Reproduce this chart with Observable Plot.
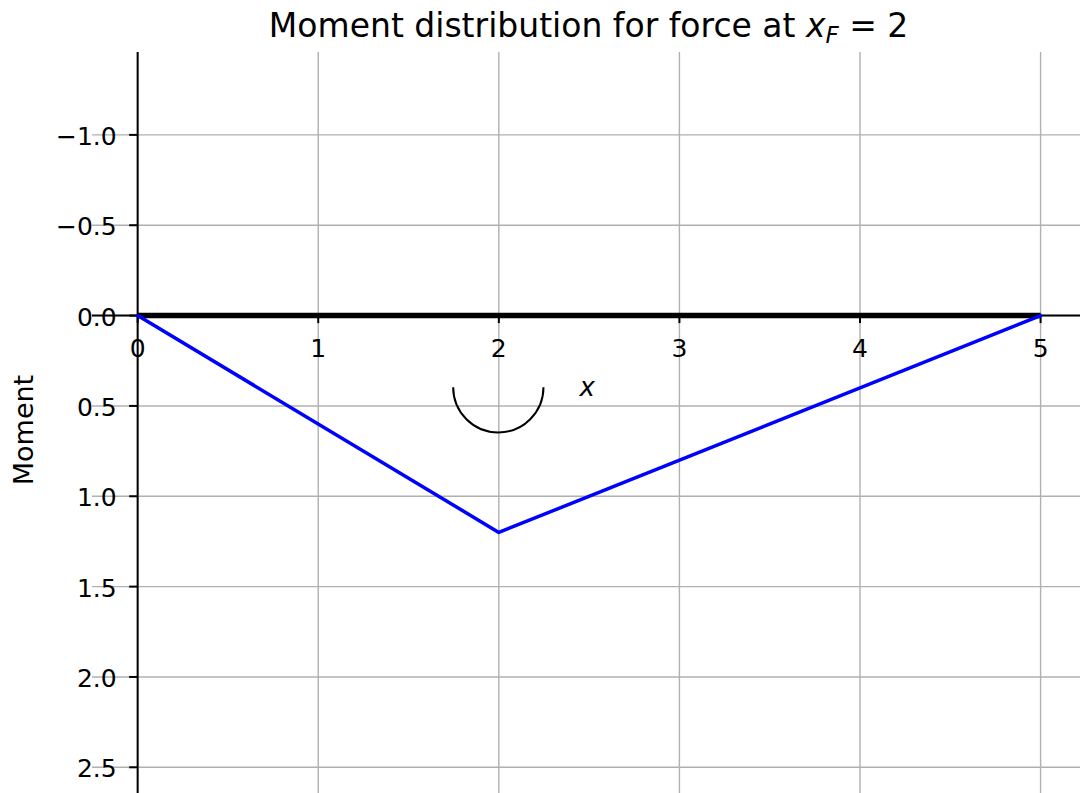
<!DOCTYPE html>
<html>
<head>
<meta charset="utf-8">
<script src="https://cdn.jsdelivr.net/npm/d3@7"></script>
<script src="https://cdn.jsdelivr.net/npm/@observablehq/plot@0.6"></script>
<style>
  html, body { margin: 0; padding: 0; background: #ffffff; }
  #chart svg { display: block; }
</style>
</head>
<body>
<div id="chart"></div>
<script>
// Simply supported beam of length 5 with a point force at x_F = 2
const beamLength = 5;
const forcePosition = 2;

// Bending moment: zero at both supports, peak under the force
const momentX = [0, 2, 5];
const momentY = [0, 1.2, 0];

// Beam drawn along the x axis
const beamX = [0, 5];
const beamY = [0, 0];

// Moment symbol (half circle) and its "x" label
const arcCenter = [2, 0.4];
const arcRadius = 0.25;
const symbolLabel = { x: 2.5, y: 0.4, text: "x" };

// Tick values
const xTicks = [0, 1, 2, 3, 4, 5];
const yTicks = [-1.0, -0.5, 0.0, 0.5, 1.0, 1.5, 2.0, 2.5];

const moment = momentX.map((x, i) => ({ x, y: momentY[i] }));
const beam = beamX.map((x, i) => ({ x, y: beamY[i] }));

const font = "DejaVu Sans";
const fmtY = d3.format(".1f");
const gridColor = "#b0b0b0";

// Half-circle moment symbol, drawn in pixel space from the scales
function momentSymbol(index, scales) {
  const cx = scales.x(arcCenter[0]);
  const cy = scales.y(arcCenter[1]);
  const r = Math.abs(scales.x(arcCenter[0] + arcRadius) - cx);
  const path = d3.create("svg:path")
    .attr("d", `M${cx - r},${cy} A${r},${r} 0 0 0 ${cx + r},${cy}`)
    .attr("fill", "none")
    .attr("stroke", "#000000")
    .attr("stroke-width", 2);
  return path.node();
}

const chart = Plot.plot({
  width: 1080,
  height: 793,
  marginTop: 52,
  marginLeft: 92,
  marginRight: 0,
  marginBottom: 0,
  style: { fontFamily: font, background: "#ffffff", overflow: "visible" },
  x: { domain: [-0.25, 5.221], axis: null },
  y: { domain: [-1.456, 2.645], reverse: true, axis: null },
  marks: [
    // grid
    Plot.gridX(xTicks, { stroke: gridColor, strokeOpacity: 1, strokeWidth: 1.4 }),
    Plot.gridY(yTicks, { stroke: gridColor, strokeOpacity: 1, strokeWidth: 1.4 }),
    // spines through the origin
    Plot.ruleX([0], { stroke: "#000000", strokeWidth: 2 }),
    Plot.ruleY([0], { stroke: "#000000", strokeWidth: 2 }),
    // tick marks
    Plot.ruleX(xTicks, { x: d => d, y1: 0, y2: 0, insetTop: 0, insetBottom: -8, stroke: "#000000", strokeWidth: 2 }),
    Plot.ruleY(yTicks, { y: d => d, x1: 0, x2: 0, insetLeft: -8, insetRight: 0, stroke: "#000000", strokeWidth: 2 }),
    // tick labels
    Plot.text(xTicks, { x: d => d, y: 0, text: d => String(d), lineAnchor: "top", dy: 24, fontSize: 25, fill: "#000000" }),
    Plot.text(yTicks, { x: 0, y: d => d, text: d => fmtY(d), textAnchor: "end", dx: -21, dy: 2, fontSize: 25, fill: "#000000" }),
    // axis label
    Plot.text(["Moment"], { frameAnchor: "left", textAnchor: "middle", rotate: -90, dx: -68, dy: 7, fontSize: 27, fill: "#000000" }),
    // beam
    Plot.line(beam, { x: "x", y: "y", stroke: "#000000", strokeWidth: 5.5, strokeLinecap: "butt" }),
    // moment distribution
    Plot.line(moment, { x: "x", y: "y", stroke: "#0000ff", strokeWidth: 3.5 }),
    // moment symbol
    momentSymbol,
    Plot.text([symbolLabel], { x: "x", y: "y", text: "text", fontStyle: "italic", fontSize: 26, dx: -2, fill: "#000000" })
  ]
});

// Title with the force position in math notation
const xs = chart.scale("x");
const titleX = (xs.apply(-0.25) + xs.apply(5.25)) / 2;
const title = d3.select(chart).append("text")
  .attr("x", titleX)
  .attr("y", 37)
  .attr("text-anchor", "middle")
  .attr("font-family", font)
  .attr("font-size", 33)
  .attr("fill", "#000000");
title.append("tspan").text("Moment distribution for force at ");
title.append("tspan").attr("font-style", "italic").text("x");
title.append("tspan").attr("font-style", "italic").attr("font-size", 23).attr("dy", 6).text("F");
title.append("tspan").attr("dy", -6).text(" = " + forcePosition);

document.getElementById("chart").appendChild(chart);
</script>
</body>
</html>
